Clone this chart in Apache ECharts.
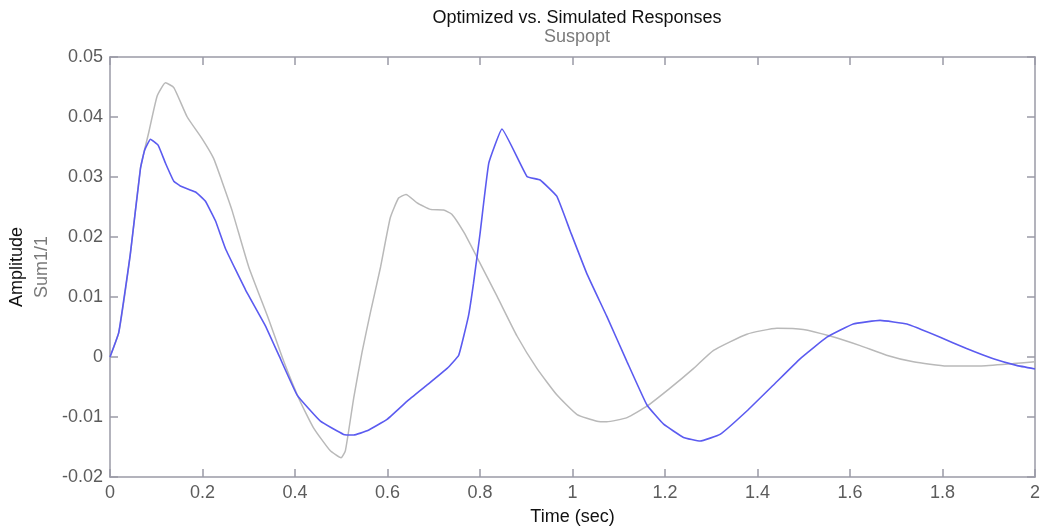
<!DOCTYPE html>
<html>
<head>
<meta charset="utf-8">
<title>Optimized vs. Simulated Responses</title>
<script src="https://cdn.jsdelivr.net/npm/echarts@6/dist/echarts.min.js"></script>
<style>
  html, body { margin: 0; padding: 0; background: #fff; }
  #chart { width: 1043px; height: 531px; }
</style>
</head>
<body>
<div id="chart"></div>
<script>
// time (sec) / amplitude pairs
const optTime = [0, 0.019, 0.044, 0.066, 0.075, 0.0875, 0.104, 0.12, 0.138, 0.152, 0.185, 0.206, 0.228, 0.25,
  0.293, 0.336, 0.365, 0.405, 0.455, 0.505, 0.527, 0.556, 0.599, 0.642, 0.685, 0.729, 0.754, 0.775, 0.786, 0.8,
  0.819, 0.8475, 0.9015, 0.93, 0.966, 0.995, 1.031, 1.074, 1.118, 1.161, 1.197, 1.24, 1.276, 1.319, 1.377,
  1.434, 1.492, 1.55, 1.607, 1.665, 1.723, 1.795, 1.852, 1.91, 1.96, 2.0];
const optAmp = [0, 0.0041, 0.0172, 0.0315, 0.0345, 0.0363, 0.0353, 0.0323, 0.0293, 0.0285, 0.0275, 0.026, 0.0227, 0.018,
  0.0112, 0.0052, 0.0003, -0.0064, -0.0107, -0.0129, -0.013, -0.0123, -0.0104, -0.0074, -0.0047, -0.0019, 0.0003, 0.0068, 0.0123, 0.0205,
  0.0323, 0.038, 0.0301, 0.0295, 0.0268, 0.021, 0.0139, 0.0068, -0.0008, -0.008, -0.0112, -0.0134, -0.014, -0.0129, -0.009,
  -0.0047, -0.0003, 0.0033, 0.0055, 0.0061, 0.0055, 0.0033, 0.0014, -0.0003, -0.0014, -0.002];

const simTime = [0, 0.019, 0.044, 0.066, 0.084, 0.102, 0.12, 0.138, 0.167, 0.199, 0.224, 0.242, 0.264, 0.3, 0.343,
  0.376, 0.41, 0.44, 0.476, 0.4996, 0.509, 0.527, 0.545, 0.563, 0.585, 0.606, 0.624, 0.64, 0.664, 0.693, 0.721,
  0.739, 0.765, 0.793, 0.837, 0.88, 0.923, 0.966, 1.01, 1.053, 1.074, 1.118, 1.161, 1.211, 1.262, 1.305, 1.377,
  1.442, 1.499, 1.557, 1.622, 1.679, 1.737, 1.809, 1.881, 1.953, 2.0];
const simAmp = [0, 0.0041, 0.0172, 0.0315, 0.0375, 0.0435, 0.0457, 0.0449, 0.04, 0.0364, 0.0331, 0.0293, 0.0244, 0.015, 0.0063,
  -0.0008, -0.0072, -0.0118, -0.0156, -0.0168, -0.0156, -0.0068, 0.0008, 0.0074, 0.015, 0.0232, 0.0265, 0.0271, 0.0257, 0.0246, 0.0245,
  0.0238, 0.0208, 0.0167, 0.0101, 0.0035, -0.0019, -0.0063, -0.0096, -0.0107, -0.0108, -0.0101, -0.0082, -0.0052, -0.0019, 0.0011, 0.0038,
  0.0048, 0.0046, 0.0035, 0.0019, 0.0003, -0.0008, -0.0015, -0.0015, -0.0011, -0.0008];

const FONT = "'Liberation Sans', Arial, sans-serif";
const AXIS_COLOR = "#9a9aa6";
const LABEL_COLOR = "#5c5c5c";

const chart = echarts.init(document.getElementById("chart"));

function pairs(xs, ys) {
  return xs.map((x, i) => [x, ys[i]]);
}

function fmt(value) {
  return String(Number(value.toFixed(2)));
}

const xBase = {
  type: "value",
  min: 0,
  max: 2,
  interval: 0.2,
  splitLine: { show: false },
  axisLine: { show: true, onZero: false, lineStyle: { color: AXIS_COLOR, width: 1.5 } },
  axisTick: { show: true, inside: true, length: 8, lineStyle: { color: AXIS_COLOR, width: 1.5 } },
};

const yBase = {
  type: "value",
  min: -0.02,
  max: 0.05,
  interval: 0.01,
  splitLine: { show: false },
  axisLine: { show: true, onZero: false, lineStyle: { color: AXIS_COLOR, width: 1.5 } },
  axisTick: { show: true, inside: true, length: 8, lineStyle: { color: AXIS_COLOR, width: 1.5 } },
};

chart.setOption({
  animation: false,
  textStyle: { fontFamily: FONT },
  title: {
    text: "Optimized vs. Simulated Responses",
    subtext: "Suspopt",
    left: 572,
    top: 4,
    textAlign: "center",
    itemGap: 1,
    textStyle: { fontFamily: FONT, fontSize: 18, fontWeight: "normal", color: "#111" },
    subtextStyle: { fontFamily: FONT, fontSize: 18, color: "#7a7a7a" },
  },
  grid: { left: 110, right: 8, top: 57, bottom: 48 },
  xAxis: [
    {
      ...xBase,
      position: "bottom",
      name: "Time (sec)",
      nameLocation: "middle",
      nameGap: 31,
      nameTextStyle: { fontFamily: FONT, fontSize: 18, color: "#111" },
      axisLabel: { fontFamily: FONT, fontSize: 18, color: LABEL_COLOR, margin: 7, formatter: fmt },
    },
    { ...xBase, position: "top", axisLabel: { show: false } },
  ],
  yAxis: [
    {
      ...yBase,
      position: "left",
      name: "{a|Amplitude}\n{b|Sum1/1}",
      nameLocation: "middle",
      nameGap: 51,
      nameRotate: 90,
      nameTextStyle: {
        rich: {
          a: { fontFamily: FONT, fontSize: 18, color: "#111", lineHeight: 25 },
          b: { fontFamily: FONT, fontSize: 18, color: "#7a7a7a", lineHeight: 25 },
        },
      },
      axisLabel: { fontFamily: FONT, fontSize: 18, color: LABEL_COLOR, margin: 7, formatter: fmt },
    },
    { ...yBase, position: "right", axisLabel: { show: false } },
  ],
  series: [
    {
      name: "Simulated",
      type: "line",
      xAxisIndex: 0,
      yAxisIndex: 0,
      showSymbol: false,
      smooth: 0.15,
      data: pairs(simTime, simAmp),
      lineStyle: { color: "#b9b9b9", width: 1.5 },
    },
    {
      name: "Optimized",
      type: "line",
      xAxisIndex: 0,
      yAxisIndex: 0,
      showSymbol: false,
      smooth: 0.1,
      data: pairs(optTime, optAmp),
      lineStyle: { color: "#5b5bf0", width: 1.6 },
    },
  ],
});
</script>
</body>
</html>
